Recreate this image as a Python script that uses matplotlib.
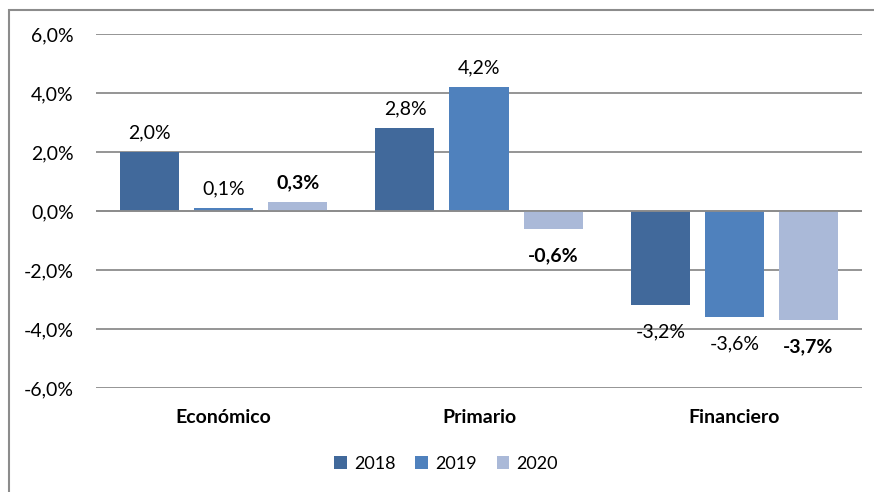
import matplotlib
matplotlib.use("Agg")
import matplotlib.pyplot as plt
import numpy as np
from matplotlib.patches import Rectangle

categories = ["Económico", "Primario", "Financiero"]
series_names = ["2018", "2019", "2020"]
v2018 = [2.0, 2.8, -3.2]
v2019 = [0.1, 4.2, -3.6]
v2020 = [0.3, -0.6, -3.7]
yticks = [-6, -4, -2, 0, 2, 4, 6]

colors = ["#41699B", "#4F81BD", "#AAB9D8"]
bold_series = [False, False, True]

plt.rcParams['font.family'] = ['Lato', 'DejaVu Sans']

fig = plt.figure(figsize=(8.74, 4.92), dpi=100)
ax = fig.add_axes([96/874, 1-388/492, 766/874, 354/492])

x = np.arange(len(categories))
width = 59/255.3
step = 74/255.3
all_vals = [v2018, v2019, v2020]
for i, (vals, name, c) in enumerate(zip(all_vals, series_names, colors)):
    pos = x + (i - 1) * step
    bars = ax.bar(pos, vals, width=width, color=c, label=name, zorder=3)
    for xp, v in zip(pos, vals):
        txt = f"{v:.1f}%".replace(".", ",")
        off = 8 if v >= 0 else -13
        ax.annotate(txt, (xp, v), xytext=(0, off), textcoords="offset points",
                    ha="center", va="bottom" if v >= 0 else "top",
                    fontsize=14, fontweight="bold" if bold_series[i] else "normal",
                    color="black")

ax.set_xlim(-0.5, 2.5)
ax.set_ylim(-6, 6)
ax.set_yticks(yticks)
ax.set_yticklabels([f"{t:.1f}%".replace(".", ",") for t in yticks], fontsize=14)
ax.yaxis.grid(True, color="#8C8C8C", linewidth=1.3, zorder=0)
ax.set_axisbelow(True)
ax.tick_params(axis="y", length=0, pad=16)
ax.set_xticks([])
for s in ax.spines.values():
    s.set_visible(False)
ax.axhline(0, color="#8C8C8C", linewidth=1.3, zorder=4)

for xi, cat in zip(x, categories):
    ax.text(xi, -0.083, cat, transform=ax.get_xaxis_transform(), ha="center", va="center",
            fontsize=14, fontweight="bold")

leg = fig.legend(loc="center", bbox_to_anchor=(446/874, 1-464/492), ncol=3, frameon=False,
                 fontsize=13, handlelength=0.7, handleheight=0.7, handletextpad=0.4,
                 columnspacing=1.1)

fig.patches.append(Rectangle((9/874, -0.1), 1.2, 1 - 9.5/492 + 0.1, transform=fig.transFigure,
                             fill=False, edgecolor="#8C8C8C", linewidth=1.5))

fig.savefig("out.png", dpi=100)
